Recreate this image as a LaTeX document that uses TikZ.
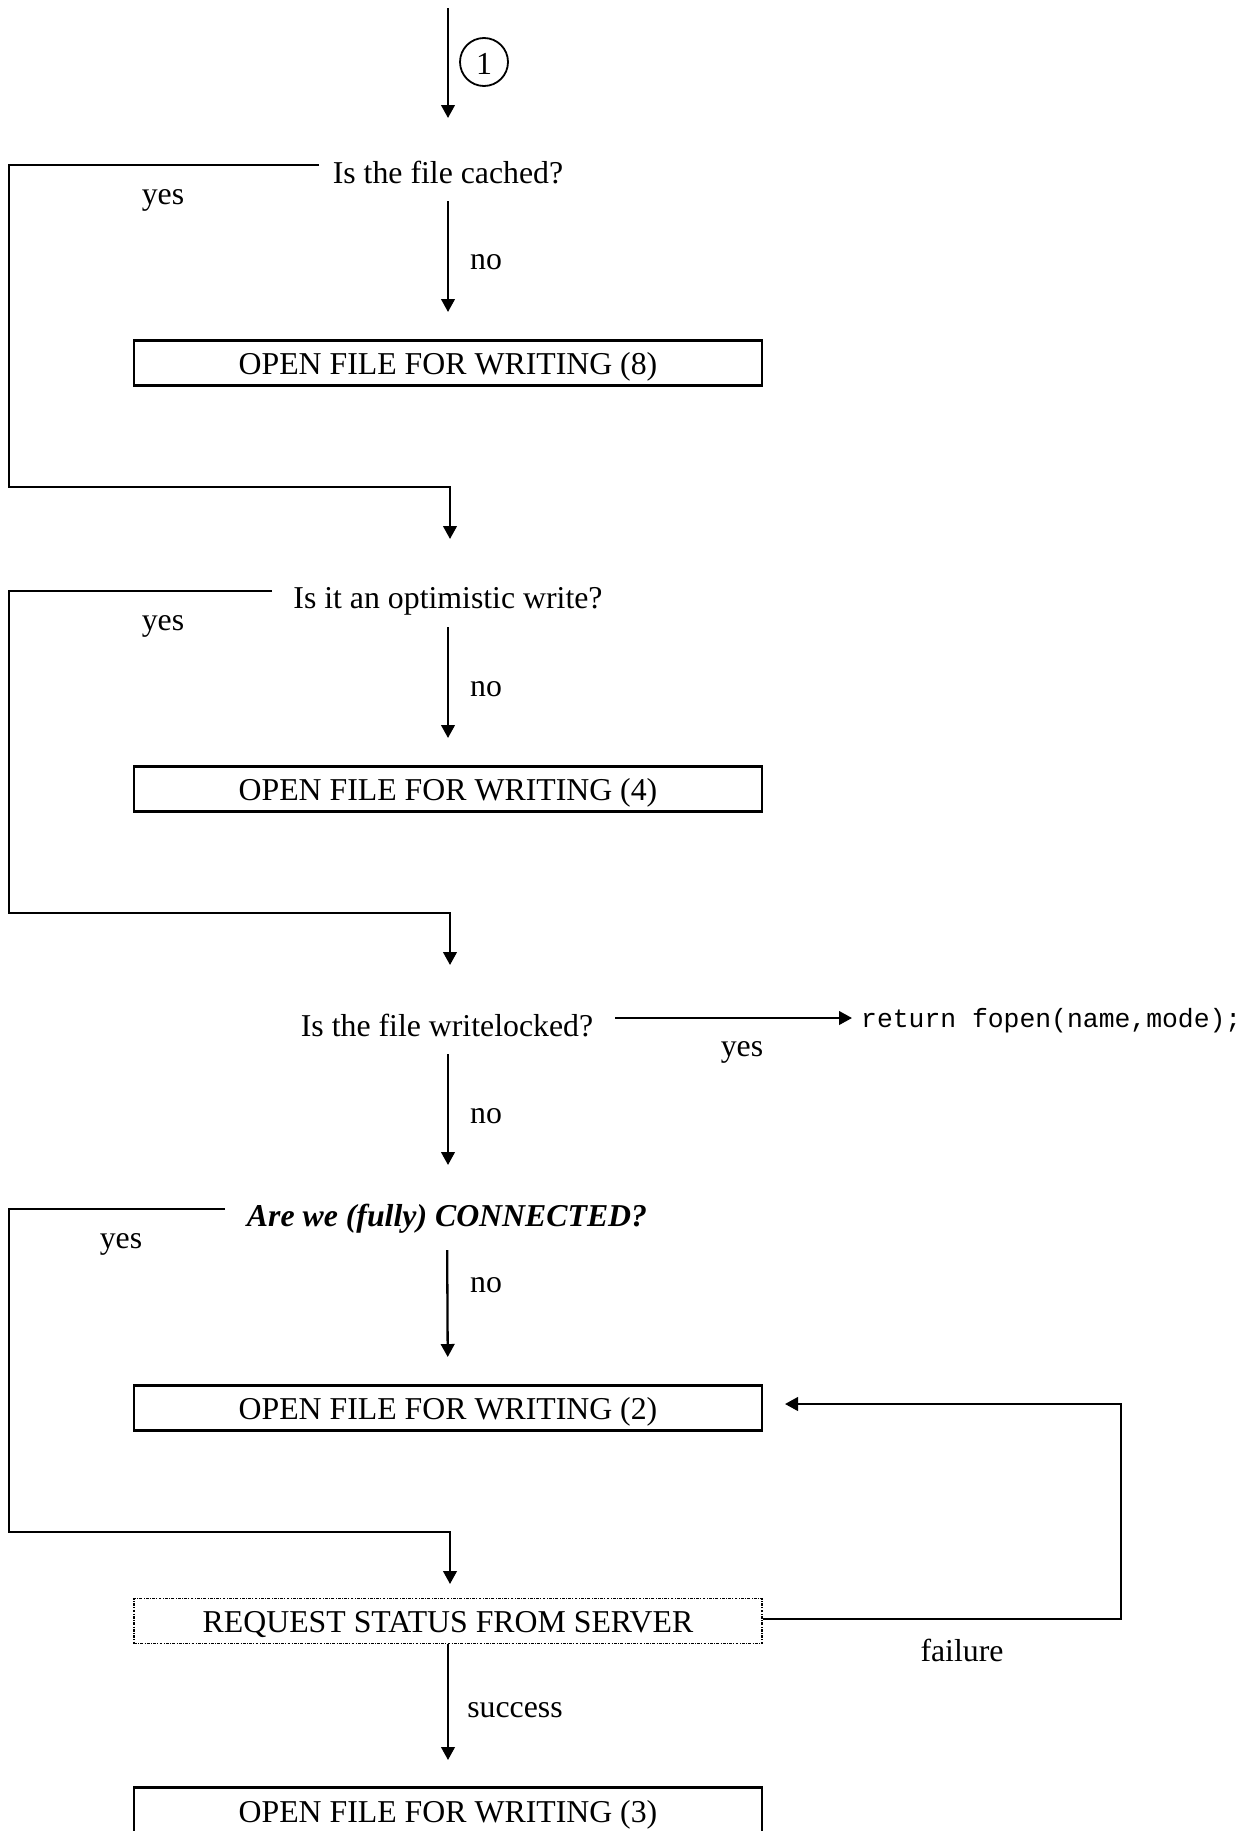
\documentclass[tikz,border=0pt]{standalone}
\usepackage{fontspec}
\setmainfont{Liberation Serif}
\setmonofont{Liberation Mono}
\usetikzlibrary{arrows.meta}
\begin{document}
\begin{tikzpicture}[x=0.5pt,y=-0.5pt,line width=1.15pt,
  arr/.style={-{Triangle[length=6.5pt,width=6.8pt]}},
  txt/.style={font=\fontsize{15.9}{19}\selectfont,inner sep=0pt},
  qtxt/.style={txt},
  stepbox/.style={draw,line width=1.15pt,minimum width=314pt,minimum height=22.5pt,inner sep=0pt,font=\fontsize{15.9}{19}\selectfont},
  boxtext/.style={inner sep=0pt,font=\fontsize{15.9}{19}\selectfont},
  reqbox/.style={draw,minimum width=314pt,minimum height=22.5pt,inner sep=0pt,line width=0.6pt,dash pattern=on 1.4pt off 0.7pt on 0.4pt off 0.7pt},
  numcirc/.style={draw,circle,line width=0.9pt,minimum size=24pt,inner sep=0pt},
  numtxt/.style={inner sep=0pt,font=\fontsize{16}{18}\selectfont},
  codetxt/.style={font=\ttfamily\fontsize{13.2}{16}\selectfont,inner sep=0pt}]
\useasboundingbox (0,0) rectangle (1255,1831);
\clip (0,0) rectangle (1255,1831);

% top entry
\coordinate (s0) at (448,8);
\coordinate (e0) at (448,118);
\draw[arr] (s0) -- (e0);
\node[numcirc] (c1) at (484,62) {};
\node[numtxt] (c1t) at (484,64) {1};

% section 1
\node[qtxt] (q1) at (448,173) {Is the file cached?};
\node[txt] (yes1) at (163,200) {yes};
\node[stepbox] (b8) at (448,363) {};
\node[boxtext] (b8t) at (448,367) {OPEN FILE FOR WRITING (8)};
\draw[arr,shorten <=14pt,shorten >=25.5pt] (q1.center) -- (b8.center);
\node[txt] (no1) at (486,262) {no};
\coordinate (l1a) at (319,165);
\coordinate (l1b) at (9,487);
\coordinate (l1c) at (450,487);
\coordinate (l1d) at (450,539);
\draw[arr] (l1a) -| (l1b) -- (l1c) -- (l1d);

% section 2
\node[qtxt] (q2) at (448,601) {Is it an optimistic write?};
\node[txt] (yes2) at (163,626) {yes};
\node[stepbox] (b4) at (448,789) {};
\node[boxtext] (b4t) at (448,793) {OPEN FILE FOR WRITING (4)};
\draw[arr,shorten <=13pt,shorten >=25.5pt] (q2.center) -- (b4.center);
\node[txt] (no2) at (486,689) {no};
\coordinate (l2a) at (272,591);
\coordinate (l2b) at (9,913);
\coordinate (l2c) at (450,913);
\coordinate (l2d) at (450,965);
\draw[arr] (l2a) -| (l2b) -- (l2c) -- (l2d);

% section 3
\node[qtxt] (q3) at (447,1026) {Is the file writelocked?};
\node[codetxt,anchor=west] (ret) at (860,1021) {return fopen(name,mode);};
\coordinate (r3a) at (615,1018);
\coordinate (r3b) at (852,1018);
\draw[arr] (r3a) -- (r3b);
\node[txt] (yes3) at (742,1052) {yes};
\coordinate (n3a) at (448,1054);
\coordinate (n3b) at (448,1165);
\draw[arr] (n3a) -- (n3b);
\node[txt] (no3) at (486,1116) {no};

% section 4
\node[qtxt,font=\bfseries\itshape\fontsize{15.9}{19}\selectfont] (q4) at (447,1219) {Are we (fully) CONNECTED?};
\node[txt] (yes4) at (121,1244) {yes};
\node[stepbox] (b2) at (448,1408) {};
\node[boxtext] (b2t) at (448,1412) {OPEN FILE FOR WRITING (2)};
\draw[arr,shorten <=15.5pt,shorten >=25.5pt] (q4.center) -- (b2.center);
\node[txt] (no4) at (486,1285) {no};
\coordinate (l4a) at (225,1209);
\coordinate (l4b) at (9,1532);
\coordinate (l4c) at (450,1532);
\coordinate (l4d) at (450,1584);
\draw[arr] (l4a) -| (l4b) -- (l4c) -- (l4d);

\node[reqbox] (req) at (448,1621) {};
\node[boxtext] (reqt) at (448,1625) {REQUEST STATUS FROM SERVER};
\coordinate (f1) at (1121,1619);
\coordinate (f2) at (785,1404);
\draw[arr] (req.east |- f1) -- (f1) |- (f2);
\node[txt] (fail) at (962,1650) {failure};

\node[stepbox,minimum height=23.5pt] (b3) at (448,1811) {};
\node[boxtext] (b3t) at (448,1815) {OPEN FILE FOR WRITING (3)};
\draw[arr,shorten <=11.5pt,shorten >=25.5pt] (req.center) -- (b3.center);
\node[txt] (succ) at (515,1710) {success};
\end{tikzpicture}
\end{document}
